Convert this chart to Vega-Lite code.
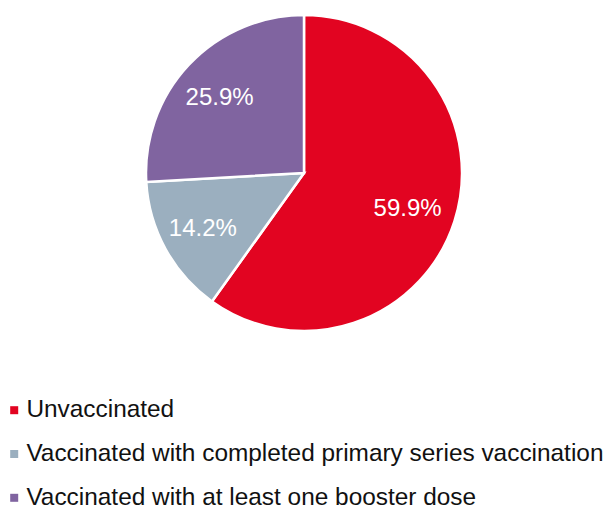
{
  "$schema": "https://vega.github.io/schema/vega-lite/v6.json",
  "autosize": {"type": "none"},
  "width": 604,
  "height": 346,
  "padding": {"left": 2, "top": 0, "right": 0, "bottom": 160},
  "background": "white",
  "config": {"view": {"stroke": null}, "font": "Liberation Sans"},
  "data": {
    "values": [
      {"category": "Unvaccinated", "share": 0.599, "order": 1},
      {"category": "Vaccinated with completed primary series vaccination", "share": 0.142, "order": 2},
      {"category": "Vaccinated with at least one booster dose", "share": 0.259, "order": 3}
    ]
  },
  "encoding": {
    "theta": {"field": "share", "type": "quantitative", "stack": true},
    "order": {"field": "order", "type": "quantitative"},
    "color": {
      "field": "category",
      "type": "nominal",
      "scale": {
        "domain": ["Unvaccinated", "Vaccinated with completed primary series vaccination", "Vaccinated with at least one booster dose"],
        "range": ["#E20421", "#9BAFBF", "#8064A0"]
      },
      "legend": {
        "title": null,
        "orient": "none",
        "legendX": 0,
        "legendY": 398,
        "direction": "vertical",
        "padding": 0,
        "symbolType": "square",
        "symbolSize": 64,
        "symbolStrokeWidth": 0,
        "symbolOpacity": 1,
        "labelFontSize": 24.4,
        "labelFont": "Liberation Sans",
        "labelColor": "#111111",
        "labelOffset": 0,
        "labelLimit": 700,
        "rowPadding": 18.8
      }
    }
  },
  "layer": [
    {
      "mark": {"type": "arc", "outerRadius": 158, "stroke": "white", "strokeWidth": 2.5}
    },
    {
      "mark": {"type": "text", "radius": 112, "dy": 2, "dx": -3, "fontSize": 24, "font": "Liberation Sans", "color": "white", "align": "center", "baseline": "middle"},
      "encoding": {
        "text": {"field": "share", "type": "quantitative", "format": ".1%"},
        "color": {"value": "white"}
      }
    }
  ]
}
